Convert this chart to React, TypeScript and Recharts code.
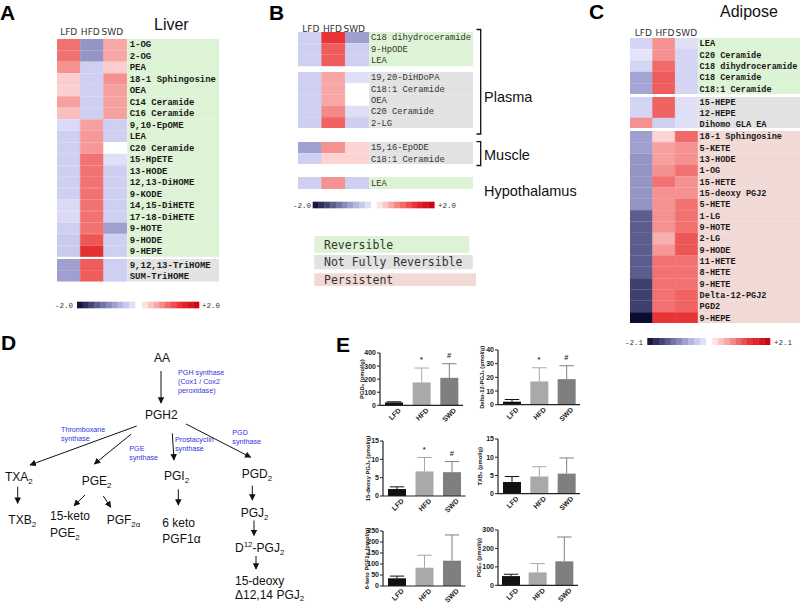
import React from 'react';
import { BarChart, ComposedChart, Bar, XAxis, YAxis, Cell, LabelList, Label, ReferenceDot } from 'recharts';

// ---------------- Heatmap data (z-scores) ----------------
const liverNames = ['1-OG', '2-OG', 'PEA', '18-1 Sphingosine', 'OEA', 'C14 Ceramide', 'C16 Ceramide', '9,10-EpOME', 'LEA', 'C20 Ceramide', '15-HpETE', '13-HODE', '12,13-DiHOME', '9-KODE', '14,15-DiHETE', '17-18-DiHETE', '9-HOTE', '9-HODE', '9-HEPE'];
const liverLFD = [0.95, 0.95, 0.75, 0.35, 0.33, 0.65, 0.45, -0.25, -0.35, -0.35, -0.35, -0.35, -0.35, -0.35, -0.25, -0.25, -0.35, -0.4, -0.4];
const liverHFD = [-0.9, -0.9, -0.35, -0.35, -0.35, -0.35, -0.35, 0.65, 0.7, 0.7, 0.95, 0.95, 0.95, 0.95, 0.95, 0.95, 0.95, 1.15, 1.45];
const liverSWD = [0.6, 0.6, 0.35, 0.75, 0.65, 0.65, 0.65, -0.35, -0.35, 0, -0.2, -0.35, -0.35, -0.35, -0.35, -0.35, -0.8, -0.35, -0.35];

const liverTriNames = ['9,12,13-TriHOME', 'SUM-TriHOME'];
const liverTriLFD = [-0.8, -0.8];
const liverTriHFD = [1.1, 1.1];
const liverTriSWD = [-0.35, -0.35];

const plasmaRevNames = ['C18 dihydroceramide', '9-HpODE', 'LEA'];
const plasmaRevLFD = [-0.35, -0.35, -0.35];
const plasmaRevHFD = [1.4, 1.1, 1.1];
const plasmaRevSWD = [-0.8, -0.35, -0.35];

const plasmaNfrNames = ['19,20-DiHDoPA', 'C18:1 Ceramide', 'OEA', 'C20 Ceramide', '2-LG'];
const plasmaNfrLFD = [-0.35, -0.35, -0.35, -0.35, -0.35];
const plasmaNfrHFD = [0.6, 0.6, 0.6, 0.8, 1.05];
const plasmaNfrSWD = [-0.2, 0, 0, -0.2, -0.35];

const muscleNames = ['15,16-EpODE', 'C18:1 Ceramide'];
const muscleLFD = [-0.8, -0.35];
const muscleHFD = [0.75, 0.3];
const muscleSWD = [0.3, 0.3];

const hypoNames = ['LEA'];
const hypoLFD = [-0.35];
const hypoHFD = [0.75];
const hypoSWD = [-0.35];

const adiRevNames = ['LEA', 'C20 Ceramide', 'C18 dihydroceramide', 'C18 Ceramide', 'C18:1 Ceramide'];
const adiRevLFD = [-0.3, -0.15, -0.3, -0.75, -0.75];
const adiRevHFD = [0.75, 0.75, 1.0, 1.1, 1.1];
const adiRevSWD = [-0.2, -0.3, -0.3, -0.3, -0.3];

const adiNfrNames = ['15-HEPE', '12-HEPE', 'Dihomo GLA EA'];
const adiNfrLFD = [-0.3, -0.3, 0.75];
const adiNfrHFD = [1.05, 1.05, -0.35];
const adiNfrSWD = [-0.2, -0.2, -0.2];

const adiPerNames = ['18-1 Sphingosine', '5-KETE', '13-HODE', '1-OG', '15-HETE', '15-deoxy PGJ2', '5-HETE', '1-LG', '9-HOTE', '2-LG', '9-HODE', '11-HETE', '8-HETE', '9-HETE', 'Delta-12-PGJ2', 'PGD2', '9-HEPE'];
const adiPerLFD = [-0.8, -0.8, -0.9, -0.9, -0.9, -0.9, -0.9, -1.4, -1.4, -1.4, -1.4, -1.4, -1.4, -1.65, -1.65, -1.65, -2.1];
const adiPerHFD = [0.3, 0.65, 0.65, 0.75, 0.95, 0.75, 0.75, 0.75, 0.75, 0.55, 0.7, 0.95, 0.95, 0.95, 0.95, 0.95, 1.4];
const adiPerSWD = [1.0, 0.75, 0.75, 0.95, 0.75, 0.75, 0.95, 0.95, 0.95, 1.15, 1.15, 0.95, 0.95, 0.95, 1.05, 1.05, 1.4];

const colorbarNeg = [-2.0, -1.8, -1.6, -1.4, -1.2, -1.0, -0.8, -0.6, -0.4, -0.2];
const colorbarPos = [0.2, 0.4, 0.6, 0.8, 1.0, 1.2, 1.4, 1.6, 1.8, 2.0];

// ---------------- Bar chart data (panel E) ----------------
const groups = ['LFD', 'HFD', 'SWD'];
const pgd2Mean = [22, 175, 210];
const pgd2Sd = [5, 110, 108];
const pgd2Marks = ['', '*', '#'];
const dPgj2Mean = [2.2, 17, 18.7];
const dPgj2Sd = [1.6, 10, 9.8];
const dPgj2Marks = ['', '*', '#'];
const deoxyMean = [1.9, 6.7, 6.5];
const deoxySd = [0.6, 3.8, 2.9];
const deoxyMarks = ['', '*', '#'];
const txb2Mean = [3.2, 4.7, 5.5];
const txb2Sd = [1.5, 2.7, 4.3];
const txb2Marks = ['', '', ''];
const ketoMean = [35, 83, 115];
const ketoSd = [10, 57, 117];
const ketoMarks = ['', '', ''];
const pge2Mean = [50, 70, 130];
const pge2Sd = [10, 48, 132];
const pge2Marks = ['', '', ''];

// ---------------- styles ----------------
const GREEN = '#ddf3d5';
const GREY = '#e2e2e2';
const PINK = '#f1d9d6';
const BAR_COLORS: Record<string, string> = { LFD: '#111111', HFD: '#a9a9a9', SWD: '#7f7f7f' };
const SANS = "'Liberation Sans', Arial, sans-serif";
const MONO = "'Liberation Mono', 'Courier New', monospace";

const NEG_STOPS: [number, number[]][] = [[0, [255, 255, 255]], [0.15, [228, 228, 250]], [0.35, [207, 207, 242]], [0.8, [160, 160, 208]], [1.4, [92, 92, 142]], [1.7, [58, 58, 105]], [2.1, [12, 12, 48]]];
const POS_STOPS: [number, number[]][] = [[0, [255, 255, 255]], [0.3, [252, 212, 212]], [0.65, [247, 160, 160]], [1.0, [241, 106, 106]], [1.4, [232, 52, 52]], [2.1, [196, 0, 10]]];

function interp(stops: [number, number[]][], v: number) {
  const a = Math.min(Math.abs(v), stops[stops.length - 1][0]);
  for (let i = 1; i < stops.length; i++) {
    if (a <= stops[i][0]) {
      const [t0, c0] = stops[i - 1];
      const [t1, c1] = stops[i];
      const f = (a - t0) / (t1 - t0);
      const c = c0.map((x, k) => Math.round(x + (c1[k] - x) * f));
      return `rgb(${c[0]},${c[1]},${c[2]})`;
    }
  }
  const c = stops[stops.length - 1][1];
  return `rgb(${c[0]},${c[1]},${c[2]})`;
}
const zColor = (z: number) => (z < 0 ? interp(NEG_STOPS, z) : interp(POS_STOPS, z));

const viewOf = (props: any) => (props.viewBox && props.viewBox.height !== undefined ? props.viewBox : props);

// ---------------- Heat block ----------------
type Block = { names: string[]; lfd: number[]; hfd: number[]; swd: number[]; x0: number; colW: number; top: number; height: number; labelEnd: number; bg: string; bold: boolean; textColor: string; fontSize: number; textOffset: number };

const HEAT_GAP = 0.6;

function HeatBlock({ b }: { b: Block }) {
  const labelW = b.labelEnd - (b.x0 + 3 * b.colW + HEAT_GAP);
  const gapU = HEAT_GAP / b.colW;
  const lblU = labelW / b.colW;
  const total = 3 + gapU + lblU;
  const data = b.names.map((n, i) => ({ name: n, lfd: b.lfd[i], hfd: b.hfd[i], swd: b.swd[i], c1: 1, c2: 1, c3: 1, gap: gapU, lbl: lblU }));
  const W = b.labelEnd - b.x0;
  const cols: [string, 'lfd' | 'hfd' | 'swd'][] = [['c1', 'lfd'], ['c2', 'hfd'], ['c3', 'swd']];
  const renderLabel = (props: any) => {
    const vb = viewOf(props);
    const x = Number(vb.x);
    const y = Number(vb.y);
    const h = Number(vb.height);
    return (
      <text x={x + b.textOffset} y={y + h / 2 + 3} fontSize={b.fontSize} fontFamily={MONO} fontWeight={b.bold ? 'bold' : 'normal'} fill={b.textColor}>
        {props.value}
      </text>
    );
  };
  return (
    <div style={{ position: 'absolute', left: b.x0, top: b.top }}>
      <BarChart layout="vertical" width={W} height={b.height} data={data} margin={{ top: 0, right: 0, bottom: 0, left: 0 }} barCategoryGap={0} barGap={0}>
        <XAxis type="number" hide domain={[0, total]} allowDataOverflow />
        <YAxis type="category" dataKey="name" hide />
        {cols.map(([k, z]) => (
          <Bar key={k} dataKey={k} stackId="s" isAnimationActive={false}>
            {data.map((d, i) => (
              <Cell key={i} fill={zColor(d[z])} stroke={zColor(d[z])} strokeWidth={0.5} />
            ))}
          </Bar>
        ))}
        <Bar dataKey="gap" stackId="s" fill="none" isAnimationActive={false} />
        <Bar dataKey="lbl" stackId="s" fill={b.bg} stroke={b.bg} strokeWidth={0.5} isAnimationActive={false}>
          <LabelList dataKey="name" content={renderLabel} />
        </Bar>
      </BarChart>
    </div>
  );
}

const A = { x0: 57.3, colW: 23.3, labelEnd: 219.3, bold: true, textColor: '#1a1a1a', fontSize: 9, textOffset: 2.2 };
const Bp = { x0: 298.3, colW: 23.67, labelEnd: 473.3, bold: false, textColor: '#333', fontSize: 8.8, textOffset: 1.3 };
const Cp = { x0: 630, colW: 22.6, labelEnd: 800, bold: true, textColor: '#1a1a1a', fontSize: 8.6, textOffset: 1.2 };

const blocks: Block[] = [
  { ...A, names: liverNames, lfd: liverLFD, hfd: liverHFD, swd: liverSWD, top: 39, height: 218.3, bg: GREEN },
  { ...A, names: liverTriNames, lfd: liverTriLFD, hfd: liverTriHFD, swd: liverTriSWD, top: 259.3, height: 22.5, bg: GREY },
  { ...Bp, names: plasmaRevNames, lfd: plasmaRevLFD, hfd: plasmaRevHFD, swd: plasmaRevSWD, top: 32.3, height: 34.4, bg: GREEN },
  { ...Bp, names: plasmaNfrNames, lfd: plasmaNfrLFD, hfd: plasmaNfrHFD, swd: plasmaNfrSWD, top: 71.7, height: 56.6, bg: GREY },
  { ...Bp, names: muscleNames, lfd: muscleLFD, hfd: muscleHFD, swd: muscleSWD, top: 141.7, height: 22.6, bg: GREY },
  { ...Bp, names: hypoNames, lfd: hypoLFD, hfd: hypoHFD, swd: hypoSWD, top: 177, height: 12.3, bg: GREEN },
  { ...Cp, names: adiRevNames, lfd: adiRevLFD, hfd: adiRevHFD, swd: adiRevSWD, top: 37.7, height: 56.6, bg: GREEN },
  { ...Cp, names: adiNfrNames, lfd: adiNfrLFD, hfd: adiNfrHFD, swd: adiNfrSWD, top: 96.7, height: 31.6, bg: GREY },
  { ...Cp, names: adiPerNames, lfd: adiPerLFD, hfd: adiPerHFD, swd: adiPerSWD, top: 130.7, height: 192.6, bg: PINK },
];

// ---------------- Bar panels ----------------
type Panel = { mean: number[]; sd: number[]; marks: string[]; axisX: number; plotW: number; yTop: number; yBot: number; max: number; ticks: number[]; label: string; labelX: number };

const panels: Panel[] = [
  { mean: pgd2Mean, sd: pgd2Sd, marks: pgd2Marks, axisX: 380, plotW: 83, yTop: 352.7, yBot: 405, max: 400, ticks: [0, 100, 200, 300, 400], label: 'PGD₂ (pmol/g)', labelX: 364 },
  { mean: dPgj2Mean, sd: dPgj2Sd, marks: dPgj2Marks, axisX: 498.3, plotW: 82, yTop: 350, yBot: 404.7, max: 40, ticks: [0, 10, 20, 30, 40], label: 'Delta-12-PGJ₂ (pmol/g)', labelX: 484 },
  { mean: deoxyMean, sd: deoxySd, marks: deoxyMarks, axisX: 383.3, plotW: 82.5, yTop: 440.5, yBot: 495.5, max: 15, ticks: [0, 5, 10, 15], label: '15-deoxy PGJ₂ (pmol/g)', labelX: 370.5 },
  { mean: txb2Mean, sd: txb2Sd, marks: txb2Marks, axisX: 498.3, plotW: 82, yTop: 439.3, yBot: 494, max: 15, ticks: [0, 5, 10, 15], label: 'TXB₂ (pmol/g)', labelX: 482 },
  { mean: ketoMean, sd: ketoSd, marks: ketoMarks, axisX: 383.3, plotW: 82.5, yTop: 530.5, yBot: 585.5, max: 250, ticks: [0, 50, 100, 150, 200, 250], label: '6-keto PGF1a (pmol/g)', labelX: 369.5 },
  { mean: pge2Mean, sd: pge2Sd, marks: pge2Marks, axisX: 498.3, plotW: 80, yTop: 530, yBot: 585.3, max: 300, ticks: [0, 100, 200, 300], label: 'PGE₂ (pmol/g)', labelX: 481.5 },
];

const ErrShape = (props: any) => {
  const { x, y, width, height, payload } = props;
  const col = BAR_COLORS[payload.g];
  const cx = x + width / 2;
  const errTop = y - (payload.sd * height) / payload.mean;
  const cap = width * 0.4;
  return (
    <g>
      <rect x={x} y={y} width={width} height={height} fill={col} />
      <line x1={cx} y1={y} x2={cx} y2={errTop} stroke={col} strokeWidth={1} />
      <line x1={cx - cap} y1={errTop} x2={cx + cap} y2={errTop} stroke={col} strokeWidth={1} />
    </g>
  );
};

function BarPanel({ p }: { p: Panel }) {
  const data = groups.map((g, i) => ({ g, mean: p.mean[i], sd: p.sd[i], mark: p.marks[i] }));
  const YW = 45;
  const left = p.axisX - YW;
  const top = p.yTop - 8;
  const plotH = p.yBot - p.yTop;
  const W = YW + p.plotW + 4;
  const H = plotH + 8 + 30;
  const lx = p.labelX - left;
  const ly = (p.yTop + p.yBot) / 2 - top;
  return (
    <div style={{ position: 'absolute', left, top }}>
      <ComposedChart width={W} height={H} data={data} margin={{ top: 8, right: 4, bottom: 0, left: 0 }}>
        <XAxis dataKey="g" type="category" height={30} tickSize={0} tickMargin={2} tickLine={false} interval={0}
          axisLine={{ stroke: '#222', strokeWidth: 1.2 }}
          tick={{ angle: -45, textAnchor: 'end', dx: 4, fontSize: 7, fontWeight: 'bold', fill: '#222', fontFamily: SANS }} />
        <YAxis type="number" domain={[0, p.max]} ticks={p.ticks} width={YW} tickSize={3} tickMargin={1} allowDataOverflow interval={0}
          axisLine={{ stroke: '#222', strokeWidth: 1.2 }} tickLine={{ stroke: '#222', strokeWidth: 1 }}
          tick={{ fontSize: 7, fontWeight: 'bold', fill: '#222', fontFamily: SANS }}>
          <Label content={() => (
            <text transform={`translate(${lx},${ly}) rotate(-90)`} textAnchor="middle" fontSize={5.8} fontWeight="bold" fontFamily={SANS} fill="#222">{p.label}</text>
          )} />
        </YAxis>
        <Bar dataKey="mean" barSize={18} shape={(sp: any) => <ErrShape {...sp} />} isAnimationActive={false} />
        {data.filter((d) => d.mark).map((d) => (
          <ReferenceDot key={d.g} x={d.g} y={d.mean + d.sd} r={1} fill="none" stroke="none" ifOverflow="visible"
            label={{ value: d.mark, position: 'top', offset: 5, fontSize: 7.5, fontWeight: 'bold', fill: '#333', fontFamily: SANS }} />
        ))}
      </ComposedChart>
    </div>
  );
}

// ---------------- overlay pieces ----------------
function Colorbar({ x1, x2, x3, x4, y, h, lo, hi, lx1, lx2 }: any) {
  const wN = (x2 - x1) / colorbarNeg.length;
  const wP = (x4 - x3) / colorbarPos.length;
  return (
    <g>
      {colorbarNeg.map((v, i) => <rect key={'n' + i} x={x1 + i * wN} y={y} width={wN + 0.3} height={h} fill={zColor(v)} />)}
      {colorbarPos.map((v, i) => <rect key={'p' + i} x={x3 + i * wP} y={y} width={wP + 0.3} height={h} fill={zColor(v)} />)}
      <text x={lx1} y={y + h - 0.5} fontSize={7.5} fontFamily={MONO} fill="#333">{lo}</text>
      <text x={lx2} y={y + h - 0.5} fontSize={7.5} fontFamily={MONO} fill="#333">{hi}</text>
    </g>
  );
}

function Headers({ xs, y }: { xs: number[]; y: number }) {
  return (
    <g>
      {groups.map((g, i) => (
        <text key={g} x={xs[i]} y={y} textAnchor="middle" fontSize={9} fontFamily="'DejaVu Sans', sans-serif" fill="#333">{g}</text>
      ))}
    </g>
  );
}

const T = ({ x, y, children, size = 12, fill = '#111' }: any) => (
  <text x={x} y={y} fontSize={size} fontFamily={SANS} fill={fill}>{children}</text>
);
const Blue = ({ x, y, children }: any) => (
  <text x={x} y={y} fontSize={7.2} fontFamily={SANS} fill="#3434e0">{children}</text>
);
const Sub = ({ children }: any) => <tspan dy={2.8} fontSize={8}>{children}</tspan>;
const Arrow = ({ x1, y1, x2, y2 }: any) => (
  <line x1={x1} y1={y1} x2={x2} y2={y2} stroke="#111" strokeWidth={1} markerEnd="url(#ah)" />
);

function Overlay() {
  const letter = { fontSize: 21, fontWeight: 'bold' as const, fontFamily: SANS, fill: '#000' };
  return (
    <svg width={800} height={603} style={{ position: 'absolute', left: 0, top: 0, pointerEvents: 'none' }}>
      <defs>
        <marker id="ah" viewBox="0 0 10 10" refX="9" refY="5" markerWidth="6.5" markerHeight="6.5" markerUnits="userSpaceOnUse" orient="auto">
          <path d="M0,0 L10,5 L0,10 z" fill="#111" />
        </marker>
      </defs>
      {/* panel letters */}
      <text x={0} y={20} {...letter}>A</text>
      <text x={269} y={20} {...letter}>B</text>
      <text x={589} y={19} {...letter}>C</text>
      <text x={1} y={350} {...letter}>D</text>
      <text x={336} y={352} {...letter}>E</text>

      {/* titles & headers */}
      <text x={154} y={29.5} fontSize={16} fontFamily={SANS} fill="#111">Liver</text>
      <text x={720} y={17} fontSize={16} fontFamily={SANS} fill="#111">Adipose</text>
      <Headers xs={[68.7, 90.3, 112.3]} y={35} />
      <Headers xs={[310.8, 332.5, 354.2]} y={31.5} />
      <Headers xs={[643.3, 665, 686.3]} y={35.5} />

      {/* B brackets */}
      <path d="M476.5,29.5 H480.7 V134 H476.5" fill="none" stroke="#111" strokeWidth={1.3} />
      <path d="M476.5,141.7 H480.7 V165.5 H476.5" fill="none" stroke="#111" strokeWidth={1.3} />
      <text x={484} y={101.5} fontSize={14.5} fontFamily={SANS} fill="#111">Plasma</text>
      <text x={484} y={159.5} fontSize={14.5} fontFamily={SANS} fill="#111">Muscle</text>
      <text x={484} y={196} fontSize={14.5} fontFamily={SANS} fill="#111">Hypothalamus</text>

      {/* colorbars */}
      <Colorbar x1={77} x2={135} x3={142} x4={199} y={301.7} h={6.6} lo="-2.0" hi="+2.0" lx1={55} lx2={202} />
      <Colorbar x1={312.7} x2={370.7} x3={376.7} x4={434.3} y={201.7} h={6.6} lo="-2.0" hi="+2.0" lx1={293} lx2={438} />
      <Colorbar x1={647.3} x2={705.7} x3={712.3} x4={770} y={338} h={7} lo="-2.1" hi="+2.1" lx1={625} lx2={774} />

      {/* legend */}
      <rect x={314.3} y={236} width={155} height={16.7} fill={GREEN} />
      <rect x={314.3} y={255} width={158.4} height={14.3} fill={GREY} />
      <rect x={314.3} y={273.3} width={161.7} height={12.7} fill={PINK} />
      <text x={324} y={248.5} fontSize={11.5} fontFamily="'DejaVu Sans Mono', monospace" fill="#333">Reversible</text>
      <text x={324} y={266} fontSize={11.5} fontFamily="'DejaVu Sans Mono', monospace" fill="#333">Not Fully Reversible</text>
      <text x={324} y={283.5} fontSize={11.5} fontFamily="'DejaVu Sans Mono', monospace" fill="#333">Persistent</text>

      {/* panel D pathway */}
      <T x={154} y={361.7}>AA</T>
      <Arrow x1={161} y1={371} x2={161} y2={403} />
      <Blue x={178} y={375}>PGH synthase</Blue>
      <Blue x={178} y={384}>(Cox1 / Cox2</Blue>
      <Blue x={178} y={392.7}>peroxidase)</Blue>
      <T x={145} y={419.3}>PGH2</T>
      <Arrow x1={136.7} y1={426} x2={30} y2={465} />
      <Arrow x1={131} y1={434.3} x2={94.3} y2={464} />
      <Arrow x1={172.3} y1={433.3} x2={174} y2={460} />
      <Arrow x1={186} y1={424} x2={250.7} y2={457.3} />
      <Blue x={61} y={431.7}>Thromboxane</Blue>
      <Blue x={61} y={440.7}>synthase</Blue>
      <Blue x={129.3} y={450.7}>PGE</Blue>
      <Blue x={129.3} y={460}>synthase</Blue>
      <Blue x={175} y={442.3}>Prostacyclin</Blue>
      <Blue x={175} y={451.3}>synthase</Blue>
      <Blue x={232.3} y={435}>PGD</Blue>
      <Blue x={232.3} y={444}>synthase</Blue>

      <T x={5} y={481}>TXA<Sub>2</Sub></T>
      <Arrow x1={17.7} y1={486.7} x2={17.7} y2={503.3} />
      <T x={8.3} y={524}>TXB<Sub>2</Sub></T>

      <T x={81.7} y={485}>PGE<Sub>2</Sub></T>
      <Arrow x1={85} y1={495} x2={74} y2={505.7} />
      <Arrow x1={103.3} y1={496} x2={110.7} y2={507.3} />
      <T x={50} y={520}>15-keto</T>
      <T x={50} y={536.7}>PGE<Sub>2</Sub></T>
      <T x={106.7} y={524}>PGF<Sub>2α</Sub></T>

      <T x={164} y={480}>PGI<Sub>2</Sub></T>
      <Arrow x1={178.3} y1={489.3} x2={178.3} y2={505} />
      <T x={162.3} y={527.3}>6 keto</T>
      <T x={162.3} y={543.3}>PGF1α</T>

      <T x={241.7} y={478.3}>PGD<Sub>2</Sub></T>
      <Arrow x1={252.3} y1={485.7} x2={252.3} y2={500} />
      <T x={240.7} y={516.7}>PGJ<Sub>2</Sub></T>
      <Arrow x1={254} y1={520.5} x2={254} y2={535.5} />
      <T x={235} y={551.7}>D<tspan dy={-4.5} fontSize={8}>12</tspan><tspan dy={4.5}>-PGJ</tspan><Sub>2</Sub></T>
      <Arrow x1={256} y1={556} x2={256} y2={569} />
      <T x={235} y={584.5}>15-deoxy</T>
      <T x={235} y={599}>Δ12,14 PGJ<tspan dy={2.2} fontSize={8}>2</tspan></T>
    </svg>
  );
}

export default function App() {
  return (
    <div style={{ position: 'absolute', left: 0, top: 0, width: 800, height: 603, background: '#fff', overflow: 'hidden' }}>
      {blocks.map((b, i) => <HeatBlock key={i} b={b} />)}
      {panels.map((p, i) => <BarPanel key={i} p={p} />)}
      <Overlay />
    </div>
  );
}
